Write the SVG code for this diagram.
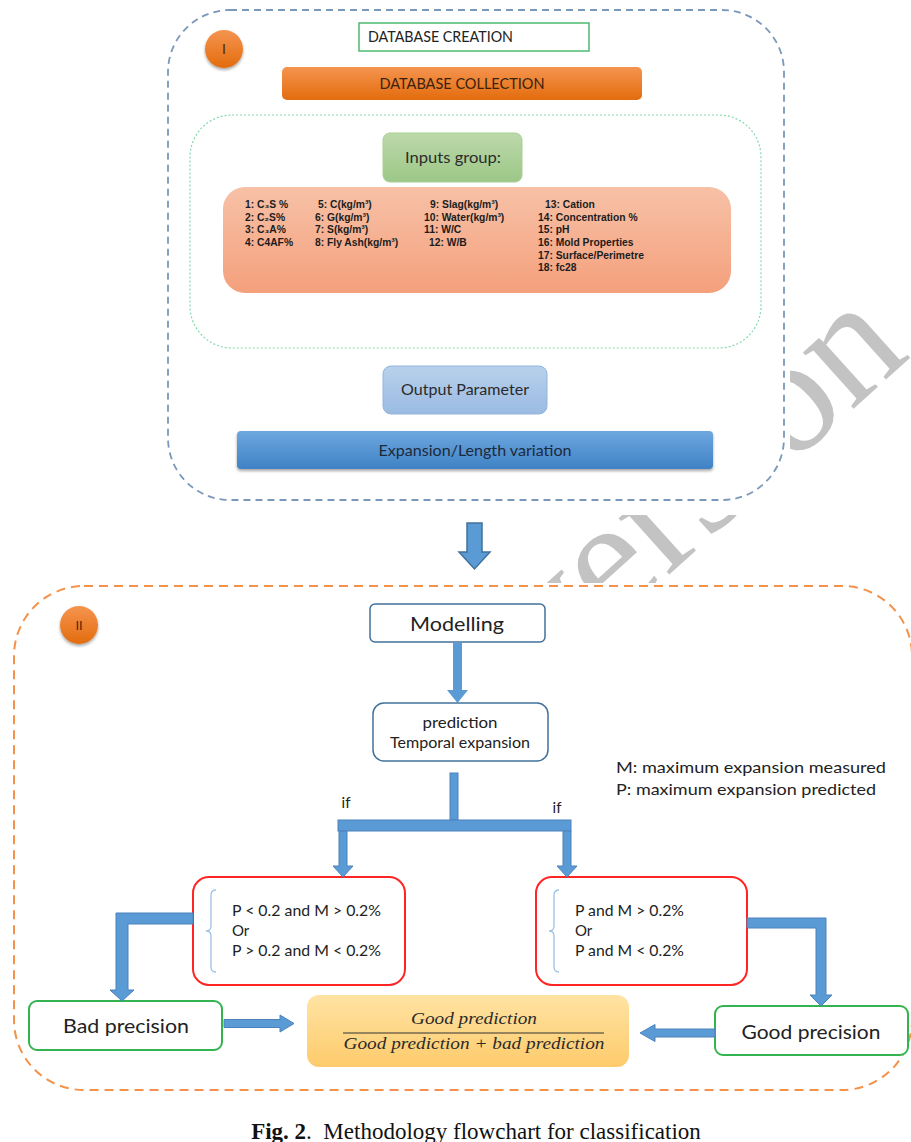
<svg xmlns="http://www.w3.org/2000/svg" width="911" height="1142" viewBox="0 0 911 1142">
<style>
.cal{font-family:Lato,"Liberation Sans",sans-serif;fill:#222}
.inp{font-family:"Liberation Sans",Arial,sans-serif;font-weight:bold;font-size:10.3px;fill:#1c1c1c}
.arr{fill:#5b9bd5;stroke:#4a82bd;stroke-width:1}
.red{fill:#fff;stroke:#ff2525;stroke-width:2}
.grn{fill:#fff;stroke:#34b451;stroke-width:2}
.brace{fill:none;stroke:#9dc3e6;stroke-width:1.3}
.math{font-family:"Liberation Serif","DejaVu Serif",serif;font-style:italic;font-size:16.5px;fill:#2a2a2a}
</style>
<defs>
<linearGradient id="gOr" x1="0" y1="0" x2="0" y2="1"><stop offset="0" stop-color="#f5944f"/><stop offset="1" stop-color="#e36c0e"/></linearGradient>
<linearGradient id="gGr" x1="0" y1="0" x2="0" y2="1"><stop offset="0" stop-color="#bcd9aa"/><stop offset="1" stop-color="#9cc787"/></linearGradient>
<linearGradient id="gSal" x1="0" y1="0" x2="0" y2="1"><stop offset="0" stop-color="#f7c1a7"/><stop offset="1" stop-color="#f4a07c"/></linearGradient>
<linearGradient id="gLb" x1="0" y1="0" x2="0" y2="1"><stop offset="0" stop-color="#b8d0ec"/><stop offset="1" stop-color="#9bbbe2"/></linearGradient>
<linearGradient id="gBl" x1="0" y1="0" x2="0" y2="1"><stop offset="0" stop-color="#6ea7df"/><stop offset="1" stop-color="#3f82c5"/></linearGradient>
<linearGradient id="gYe" x1="0" y1="0" x2="0" y2="1"><stop offset="0" stop-color="#ffe3a3"/><stop offset="1" stop-color="#fdcb6c"/></linearGradient>
<filter id="sh" x="-20%" y="-20%" width="140%" height="160%"><feDropShadow dx="0" dy="2" stdDeviation="1.5" flood-color="#000" flood-opacity="0.35"/></filter>
<clipPath id="wmClip"><rect x="790" y="0" width="121" height="583"/><rect x="0" y="515" width="911" height="68"/><rect x="0" y="1095" width="911" height="47"/></clipPath>
</defs>
<rect x="0" y="0" width="911" height="1142" fill="#fff"/>

<g id="watermark" clip-path="url(#wmClip)">
<text x="551" y="681" transform="rotate(-42 551 681)" font-family="Liberation Serif,serif" font-size="165" fill="#c3c3c3">version</text>
</g>

<g id="groupI">
<rect x="168" y="10" width="616" height="490" rx="62" fill="none" stroke="#7b97ba" stroke-width="1.8" stroke-dasharray="7 5"/>
<rect x="190" y="115" width="571" height="233" rx="42" fill="none" stroke="#86d9ad" stroke-width="1.2" stroke-dasharray="2 2"/>
</g>
<g id="badgeI">
<circle cx="224" cy="49" r="19" fill="url(#gOr)" filter="url(#sh)"/>
<text x="224" y="54" text-anchor="middle" font-family="Liberation Sans,sans-serif" font-size="14" fill="#4a2208">I</text>
</g>
<g id="dbCreation">
<rect x="359" y="23" width="230" height="28" fill="#fff" stroke="#4cbb70" stroke-width="1.5"/>
<text class="cal" x="368" y="42" font-size="15" textLength="145" lengthAdjust="spacingAndGlyphs">DATABASE CREATION</text>
</g>
<g id="dbCollection">
<rect x="282" y="67" width="360" height="33" rx="5" fill="url(#gOr)"/>
<text class="cal" x="462" y="89" font-size="15" text-anchor="middle" textLength="165" lengthAdjust="spacingAndGlyphs" style="fill:#3a2210">DATABASE COLLECTION</text>
</g>
<g id="inputsGroup">
<rect x="383" y="133" width="139" height="49" rx="7" fill="url(#gGr)" stroke="#a8cf93" stroke-width="1"/>
<text class="cal" x="453" y="163" font-size="15" text-anchor="middle" textLength="96" lengthAdjust="spacingAndGlyphs" style="fill:#2c2c2c">Inputs group:</text>
</g>
<g id="inputsList">
<rect x="223" y="187" width="508" height="106" rx="22" fill="url(#gSal)"/>
<text class="inp" x="245" y="208">1: C₃S %</text>
<text class="inp" x="245" y="221">2: C₂S%</text>
<text class="inp" x="245" y="233">3: C₃A%</text>
<text class="inp" x="245" y="246">4: C4AF%</text>
<text class="inp" x="318" y="208">5: C(kg/m³)</text>
<text class="inp" x="315" y="221">6: G(kg/m³)</text>
<text class="inp" x="315" y="233">7: S(kg/m³)</text>
<text class="inp" x="315" y="246">8: Fly Ash(kg/m³)</text>
<text class="inp" x="430" y="208">9: Slag(kg/m³)</text>
<text class="inp" x="424" y="221">10: Water(kg/m³)</text>
<text class="inp" x="424" y="233">11: W/C</text>
<text class="inp" x="429" y="246">12: W/B</text>
<text class="inp" x="545" y="208">13: Cation</text>
<text class="inp" x="538" y="221">14: Concentration %</text>
<text class="inp" x="538" y="233">15: pH</text>
<text class="inp" x="538" y="246">16: Mold Properties</text>
<text class="inp" x="538" y="259">17: Surface/Perimetre</text>
<text class="inp" x="538" y="271">18: fc28</text>
</g>
<g id="outputParam">
<rect x="383" y="366" width="164" height="48" rx="8" fill="url(#gLb)" stroke="#94b4de" stroke-width="1"/>
<text class="cal" x="465" y="395" font-size="15" text-anchor="middle" textLength="128" lengthAdjust="spacingAndGlyphs" style="fill:#2a2a2a">Output Parameter</text>
</g>
<g id="expansion">
<rect x="237" y="431" width="476" height="38" rx="4" fill="url(#gBl)" filter="url(#sh)"/>
<text class="cal" x="475" y="456" font-size="15" text-anchor="middle" textLength="193" lengthAdjust="spacingAndGlyphs" style="fill:#1d2a3a">Expansion/Length variation</text>
</g>

<g id="groupII">
<rect x="14" y="586" width="898" height="504" rx="70" fill="none" stroke="#f4914a" stroke-width="2" stroke-dasharray="9 6"/>
</g>
<g id="badgeII">
<circle cx="79" cy="625" r="19" fill="url(#gOr)" filter="url(#sh)"/>
<text x="79" y="630" text-anchor="middle" font-family="Liberation Sans,sans-serif" font-size="13" fill="#4a2208">II</text>
</g>
<g id="modelling">
<rect x="370" y="604" width="175" height="38" rx="5" fill="#fff" stroke="#41719c" stroke-width="1.5"/>
<text class="cal" x="457" y="631" font-size="20" text-anchor="middle" textLength="94" lengthAdjust="spacingAndGlyphs">Modelling</text>
</g>
<g id="prediction">
<rect x="373" y="703" width="175" height="58" rx="11" fill="#fff" stroke="#41719c" stroke-width="1.5"/>
<text class="cal" x="460" y="728" font-size="15" text-anchor="middle" textLength="75" lengthAdjust="spacingAndGlyphs">prediction</text>
<text class="cal" x="460" y="748" font-size="15" text-anchor="middle" textLength="140" lengthAdjust="spacingAndGlyphs">Temporal expansion</text>
</g>
<g id="legend">
<text class="cal" x="616" y="773" font-size="16" textLength="270" lengthAdjust="spacingAndGlyphs">M: maximum expansion measured</text>
<text class="cal" x="616" y="795" font-size="16" textLength="260" lengthAdjust="spacingAndGlyphs">P: maximum expansion predicted</text>
</g>
<g id="condBad">
<rect class="red" x="193" y="877" width="212" height="108" rx="16"/>
<path class="brace" d="M216,890 Q211,890 211,895 L211,926 Q211,931 206,931 Q211,931 211,936 L211,967 Q211,972 216,972"/>
<text class="cal" x="232" y="916" font-size="15" textLength="149" lengthAdjust="spacingAndGlyphs">P &lt; 0.2 and M &gt; 0.2%</text>
<text class="cal" x="232" y="936" font-size="15">Or</text>
<text class="cal" x="232" y="956" font-size="15" textLength="149" lengthAdjust="spacingAndGlyphs">P &gt; 0.2 and M &lt; 0.2%</text>
</g>
<g id="condGood">
<rect class="red" x="536" y="877" width="211" height="108" rx="16"/>
<path class="brace" d="M559,890 Q554,890 554,895 L554,926 Q554,931 549,931 Q554,931 554,936 L554,967 Q554,972 559,972"/>
<text class="cal" x="575" y="916" font-size="15" textLength="109" lengthAdjust="spacingAndGlyphs">P and M &gt; 0.2%</text>
<text class="cal" x="575" y="936" font-size="15">Or</text>
<text class="cal" x="575" y="956" font-size="15" textLength="109" lengthAdjust="spacingAndGlyphs">P and M &lt; 0.2%</text>
</g>
<g id="badPrecision">
<rect class="grn" x="29" y="1001" width="193" height="49" rx="8"/>
<text class="cal" x="126" y="1033" font-size="20" text-anchor="middle" textLength="126" lengthAdjust="spacingAndGlyphs">Bad precision</text>
</g>
<g id="goodPrecision">
<rect class="grn" x="715" y="1006" width="193" height="49" rx="8"/>
<text class="cal" x="811" y="1039" font-size="20" text-anchor="middle" textLength="139" lengthAdjust="spacingAndGlyphs">Good precision</text>
</g>
<g id="formula">
<rect x="307" y="995" width="322" height="72" rx="12" fill="url(#gYe)"/>
<text class="math" x="474" y="1024" text-anchor="middle" textLength="126" lengthAdjust="spacingAndGlyphs">Good prediction</text>
<line x1="343" y1="1033" x2="604" y2="1033" stroke="#333" stroke-width="1"/>
<text class="math" x="474" y="1049" text-anchor="middle" textLength="261" lengthAdjust="spacingAndGlyphs">Good prediction + bad prediction</text>
</g>

<g id="connectors">
<polygon points="467,523 482,523 482,552 490,552 474.5,569 459,552 467,552" fill="#5b9bd5" stroke="#41719c" stroke-width="1.5"/>
<polygon points="453,643 462,643 462,690 468,690 457.5,703 447,690 453,690" fill="#5b9bd5"/>
<rect class="arr" x="450" y="773" width="8" height="47"/>
<rect class="arr" x="338" y="820" width="233" height="11"/>
<polygon class="arr" points="339,831 347,831 347,866 353,866 343,877 333,866 339,866"/>
<polygon class="arr" points="563,831 571,831 571,866 577,866 567,877 557,866 563,866"/>
<text class="cal" x="346" y="808" font-size="15" text-anchor="middle">if</text>
<text class="cal" x="557" y="813" font-size="15" text-anchor="middle">if</text>
<polygon class="arr" points="193,913 116,913 116,990 110,990 122,1001 134,990 128,990 128,924 193,924"/>
<polygon class="arr" points="747,918 826,918 826,995 832,995 821,1006 810,995 816,995 816,928 747,928"/>
<polygon class="arr" points="224,1019.5 280,1019.5 280,1015 294,1023.5 280,1032 280,1027.5 224,1027.5"/>
<polygon class="arr" points="715,1029 655,1029 655,1024.5 640,1033 655,1041.5 655,1037 715,1037"/>
</g>

<text x="476" y="1139" text-anchor="middle" font-family="Liberation Serif,'Times New Roman',serif" font-size="23" fill="#111"><tspan font-weight="bold">Fig. 2</tspan>.&#160; Methodology flowchart for classification</text>
</svg>
